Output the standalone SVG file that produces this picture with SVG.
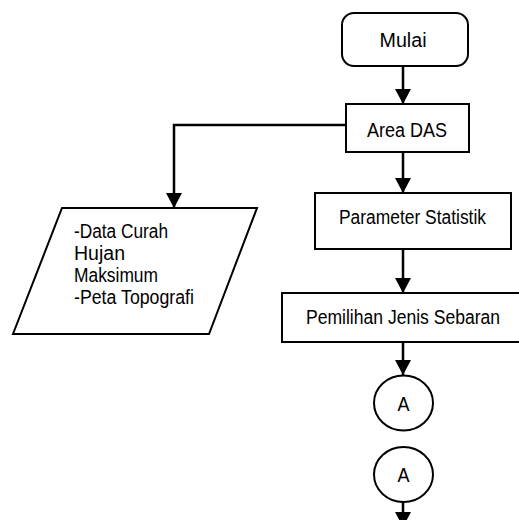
<svg xmlns="http://www.w3.org/2000/svg" width="519" height="520" viewBox="0 0 519 520">
  <style>
    .shape { fill: #ffffff; stroke: #000000; stroke-width: 2; }
    .edge { fill: none; stroke: #000000; stroke-width: 2.5; }
    .label { font-family: "Liberation Sans", Arial, sans-serif; font-size: 20px; fill: #000000; }
    .mid { text-anchor: middle; }
  </style>
  <defs>
    <marker id="arrow" markerUnits="userSpaceOnUse" markerWidth="16" markerHeight="16" viewBox="0 0 16 16" refX="15" refY="8" orient="auto">
      <path d="M0,0 L15,8 L0,16 Z" fill="#000000"/>
    </marker>
  </defs>
  <rect width="519" height="520" fill="#ffffff"/>

  <!-- connectors -->
  <g id="connectors">
    <line class="edge" x1="403" y1="66" x2="403" y2="104" marker-end="url(#arrow)"/>
    <polyline class="edge" points="346,125 174,125 174,208" marker-end="url(#arrow)"/>
    <line class="edge" x1="403" y1="152" x2="403" y2="193" marker-end="url(#arrow)"/>
    <line class="edge" x1="403" y1="249" x2="403" y2="293" marker-end="url(#arrow)"/>
    <line class="edge" x1="403" y1="342" x2="403" y2="375" marker-end="url(#arrow)"/>
    <line class="edge" x1="403" y1="502" x2="403" y2="527" marker-end="url(#arrow)"/>
  </g>

  <!-- nodes -->
  <g id="mulai">
    <rect class="shape" x="342" y="13" width="126" height="53" rx="12" ry="12"/>
    <text class="label mid" x="403" y="47" textLength="47" lengthAdjust="spacingAndGlyphs">Mulai</text>
  </g>

  <g id="area-das">
    <rect class="shape" x="346" y="104" width="123" height="48"/>
    <text class="label mid" x="407" y="137" textLength="80" lengthAdjust="spacingAndGlyphs">Area DAS</text>
  </g>

  <g id="data-input">
    <polygon class="shape" points="62,208 257,208 209,334 13,334"/>
    <text class="label" x="74" y="238" textLength="94" lengthAdjust="spacingAndGlyphs">-Data Curah</text>
    <text class="label" x="74" y="260" textLength="51" lengthAdjust="spacingAndGlyphs">Hujan</text>
    <text class="label" x="74" y="282" textLength="84" lengthAdjust="spacingAndGlyphs">Maksimum</text>
    <text class="label" x="74" y="304" textLength="120" lengthAdjust="spacingAndGlyphs">-Peta Topografi</text>
  </g>

  <g id="parameter-statistik">
    <rect class="shape" x="315" y="193" width="196" height="56"/>
    <text class="label mid" x="412.5" y="224" textLength="147" lengthAdjust="spacingAndGlyphs">Parameter Statistik</text>
  </g>

  <g id="pemilihan-jenis-sebaran">
    <rect class="shape" x="282" y="293" width="242" height="49"/>
    <text class="label mid" x="403" y="324" textLength="194" lengthAdjust="spacingAndGlyphs">Pemilihan Jenis Sebaran</text>
  </g>

  <g id="connector-a-out">
    <ellipse class="shape" cx="403.5" cy="403" rx="29.5" ry="27.5"/>
    <text class="label mid" x="403.5" y="411" textLength="12" lengthAdjust="spacingAndGlyphs">A</text>
  </g>

  <g id="connector-a-in">
    <ellipse class="shape" cx="403.5" cy="474.5" rx="29.5" ry="27.5"/>
    <text class="label mid" x="403.5" y="482" textLength="12" lengthAdjust="spacingAndGlyphs">A</text>
  </g>
</svg>
